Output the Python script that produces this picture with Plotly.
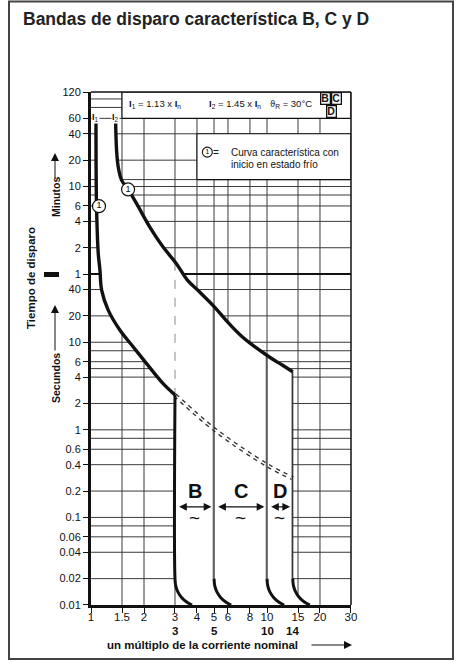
import numpy as np
import plotly.graph_objects as go

# ---- axes: multiple of rated current (x) and trip time in seconds (y) ----
x_tick_vals = [1, 1.5, 2, 3, 4, 5, 6, 8, 10, 15, 20, 30]
x_tick_text = ["1", "1.5", "2", "3", "4", "5", "6", "8", "10", "15", "20", "30"]
y_tick_vals = [7200, 3600, 2400, 1200, 600, 360, 240, 120, 60,
               40, 20, 10, 6, 4, 2, 1, 0.6, 0.4, 0.2, 0.1, 0.06, 0.04, 0.02, 0.01]
y_tick_text = ["120", "60", "40", "20", "10", "6", "4", "2", "1",
               "40", "20", "10", "6", "4", "2", "1", "0.6", "0.4", "0.2", "0.1",
               "0.06", "0.04", "0.02", "0.01"]

grid_x = [1.5, 2, 3, 4, 5, 6, 8, 10, 15, 20]
grid_t = [6000, 4800, 3600, 2400, 1200, 720, 600, 480, 360, 240, 120,
          40, 20, 10, 8, 6, 5, 4, 2, 1, 0.8, 0.6, 0.4, 0.2, 0.1, 0.08, 0.06, 0.04, 0.02]
minute_t = 60
x_min, x_max = 1, 30
t_min, t_max = 0.01, 7200

# ---- thermal limits ----
lower_x = [1.067, 1.068, 1.075, 1.099, 1.124, 1.149, 1.252, 1.458, 1.734, 2.064, 2.562, 3.0]
lower_t = [3200, 1200, 352, 104, 66.7, 39.4, 23.3, 13.8, 8.88, 5.74, 3.39, 2.5]

upper_x = [1.38, 1.397, 1.427, 1.491, 1.624, 1.813, 2.154, 2.562, 3.05, 3.53,
           4.13, 5.02, 5.84, 7.25, 10.26, 12.2, 14.0]
upper_t = [3200, 1562, 1007, 710, 556, 385, 208, 123, 79.5, 51.2,
           37.7, 25.4, 17.9, 11.5, 6.83, 5.49, 4.6]

# lower thermal limit continued into the magnetic zone
ext_x = [3.0, 5.08, 10.0, 14.0]
ext_t = [2.5, 0.994, 0.396, 0.28]

# magnetic release limits and the instantaneous tail
band_edges = [3, 5, 10, 14]
band_names = ["B", "C", "D"]
tail_ratio = [1.0, 1.01, 1.04, 1.09, 1.16, 1.25]
tail_t = [0.02, 0.0165, 0.014, 0.0122, 0.0109, 0.01]

# cold-start markers on both limits
mark_x = [1.11, 1.624]
mark_t = [358, 556]

L = np.log10
INK = "#111111"
GRID = "#3a3a3a"


def upper_at(x):
    return 10 ** np.interp(L(x), L(upper_x), L(upper_t))


def line(x, y, color=INK, width=1.0, dash=None, shape="linear"):
    return go.Scatter(x=x, y=y, mode="lines", hoverinfo="skip", showlegend=False,
                      line=dict(color=color, width=width, dash=dash, shape=shape))


fig = go.Figure()

# grid
hx, hy = [], []
for t in grid_t:
    hx += [x_min, x_max, None]
    hy += [t, t, None]
vx, vy = [], []
for x in grid_x:
    vx += [x, x, None]
    vy += [t_min, t_max, None]
fig.add_trace(line(hx, hy, GRID, 1))
fig.add_trace(line(vx, vy, GRID, 1))
fig.add_trace(line([x_min, x_max], [minute_t, minute_t], INK, 2))

# tripping band (white area between the limits)
e0, e1 = band_edges[0], band_edges[-1]
poly_x = (lower_x + [e0 * r for r in tail_ratio]
          + [e1 * r for r in tail_ratio[::-1]] + upper_x[::-1])
poly_t = lower_t + tail_t + tail_t[::-1] + upper_t[::-1]
fig.add_trace(go.Scatter(x=poly_x, y=poly_t, mode="lines", fill="toself",
                         fillcolor="white", line=dict(color="rgba(0,0,0,0)", width=0),
                         hoverinfo="skip", showlegend=False))

# header and legend boxes
for bx, bt in [((1.5, 30), (3600, 7200)), ((4, 30), (720, 2400))]:
    fig.add_trace(go.Scatter(x=[bx[0], bx[1], bx[1], bx[0], bx[0]],
                             y=[bt[0], bt[0], bt[1], bt[1], bt[0]],
                             mode="lines", fill="toself", fillcolor="white",
                             line=dict(color=INK, width=1.1),
                             hoverinfo="skip", showlegend=False))

# dotted continuation of the lower limit
fig.add_trace(line(ext_x, ext_t, "#333333", 4.2, "dot", "spline"))
fig.add_trace(line(ext_x, ext_t, "white", 1.6, None, "spline"))

# dashed guide at the B limit
fig.add_trace(line([e0, e0], [upper_at(e0), lower_t[-1]], "#8a8a8a", 1, "dash"))

# magnetic limits: thin verticals, thick instantaneous tails
for e in band_edges[1:]:
    top = upper_at(e)
    fig.add_trace(line([e / 1.012, e / 1.012], [top, tail_t[0]], "#8a8a8a", 1))
    fig.add_trace(line([e, e], [top, tail_t[0]], INK, 1.1))
    fig.add_trace(line([e * r for r in tail_ratio], tail_t, INK, 3, None, "spline"))
fig.add_trace(line([e0] + [e0 * r for r in tail_ratio], [lower_t[-1]] + tail_t,
                   INK, 3, None, "spline"))

# thermal limits
fig.add_trace(line(lower_x, lower_t, INK, 3.4, None, "spline"))
fig.add_trace(line(upper_x, upper_t, INK, 3.4, None, "spline"))

# circled 1 markers
fig.add_trace(go.Scatter(x=mark_x, y=mark_t, mode="markers+text", text=["1", "1"],
                         textposition="middle center",
                         textfont=dict(size=9, color=INK),
                         marker=dict(size=13, color="white", line=dict(color=INK, width=1.2)),
                         hoverinfo="skip", showlegend=False))
fig.add_trace(go.Scatter(x=[4.58], y=[1482], mode="markers+text", text=["1"],
                         textposition="middle center",
                         textfont=dict(size=7.5, color=INK),
                         marker=dict(size=10, color="white", line=dict(color=INK, width=1.1)),
                         hoverinfo="skip", showlegend=False))

# ---- annotations ----
ann = []


def px_x(p):
    return (p - 91) / 260


def px_y(p):
    return (605 - p) / 513


def text(x, y, s, size=10, bold=False, xanchor="center", xref="paper", yref="paper",
         **kw):
    ann.append(dict(x=x, y=y, xref=xref, yref=yref, text=f"<b>{s}</b>" if bold else s,
                    showarrow=False, xanchor=xanchor, yanchor="middle",
                    font=dict(size=size, color=INK), **kw))


ann.append(dict(x=px_x(21), y=px_y(19), xref="paper", yref="paper",
                text="<b>Bandas de disparo característica B, C y D</b>", showarrow=False,
                xanchor="left", yanchor="middle", font=dict(size=17.5, color="#222222")))

text(px_x(127), px_y(104), "<b>I</b><sub>1</sub> = 1.13 x <b>I</b><sub>n</sub>", 9.5, False, "left")
text(px_x(207), px_y(104), "<b>I</b><sub>2</sub> = 1.45 x <b>I</b><sub>n</sub>", 9.5, False, "left")
text(px_x(268), px_y(104), "ϑ<sub>R</sub> = 30°C", 9.5, False, "left")
for s, cx, cy in [("B", 325, 98), ("C", 336, 98), ("D", 331.5, 111)]:
    ann.append(dict(x=px_x(cx), y=px_y(cy), xref="paper", yref="paper", text=f"<b>{s}</b>",
                    xanchor="center", yanchor="middle",
                    showarrow=False, font=dict(size=10.5, color=INK), bgcolor="white",
                    bordercolor=INK, borderwidth=1.3, borderpad=0, width=8, height=10))

for lx, s in [(lower_x[0], "1"), (upper_x[0], "2")]:
    ann.append(dict(x=L(lx), y=px_y(117), xref="x", yref="paper",
                    xanchor="center", yanchor="middle",
                    text=f"<b>I</b><sub>{s}</sub>", showarrow=False, bgcolor="white",
                    borderpad=0, font=dict(size=9, color=INK)))

text(px_x(216), px_y(152), "=", 10)
text(px_x(229), px_y(152), "Curva característica con", 10, False, "left")
text(px_x(229), px_y(164.5), "inicio en estado frío", 10, False, "left")

# band letters, span arrows and tildes
for i, name in enumerate(band_names):
    a, b = band_edges[i], band_edges[i + 1]
    mid = (L(a) + L(b)) / 2
    text(mid, L(0.2), name, 20, True, xref="x", yref="y")
    text(mid, L(0.1), "~", 19, xref="x", yref="y")
    ann.append(dict(x=L(b / 1.035), y=L(0.132), ax=L(a * 1.035), ay=L(0.132),
                    xref="x", yref="y", axref="x", ayref="y", text="", showarrow=True,
                    arrowhead=2, arrowside="end+start", arrowsize=1.4, arrowwidth=1.1,
                    arrowcolor=INK))

# rated multiples of the magnetic limits, under the tick labels
for v in band_edges:
    text(L(v), px_y(631), str(v), 11.5, True, xref="x")

text(px_x(202), px_y(645), "un múltiplo de la corriente nominal", 11.5, True)
ann.append(dict(x=px_x(352), y=px_y(645), xref="paper", yref="paper", ax=-42, ay=0,
                text="", showarrow=True, arrowhead=2, arrowsize=1.6, arrowwidth=1,
                arrowcolor=INK))

text(px_x(31), px_y(278), "Tiempo de disparo", 11.5, True, textangle=-90)
text(px_x(56), px_y(197), "Minutos", 10.5, True, textangle=-90)
text(px_x(56), px_y(378), "Secundos", 10.5, True, textangle=-90)
for head, length in [(153, 27), (305, 47)]:
    ann.append(dict(x=px_x(55), y=px_y(head), xref="paper", yref="paper", ax=0, ay=length,
                    text="", showarrow=True, arrowhead=2, arrowsize=1.6, arrowwidth=1,
                    arrowcolor=INK))

shapes = [
    dict(type="rect", xref="paper", yref="paper", x0=px_x(44), x1=px_x(59),
         y0=px_y(277), y1=px_y(272), fillcolor=INK, line=dict(width=0)),
    dict(type="rect", xref="paper", yref="paper", x0=px_x(9), x1=px_x(453),
         y0=px_y(659), y1=px_y(1.5), line=dict(color="#444444", width=2)),
    dict(type="line", xref="paper", yref="paper", x0=0, x1=1, y0=1, y1=1,
         line=dict(color=INK, width=1.5)),
    dict(type="line", xref="paper", yref="paper", x0=1, x1=1, y0=0, y1=1,
         line=dict(color=INK, width=1.5)),
]

fig.update_layout(
    width=456, height=662, margin=dict(l=91, r=105, t=92, b=57),
    paper_bgcolor="white", plot_bgcolor="white", showlegend=False,
    font=dict(family="Liberation Sans, Arial, sans-serif", color=INK),
    annotations=ann, shapes=shapes,
    xaxis=dict(type="log", range=[L(x_min) - 1e-4, L(x_max) + 1e-4], tickmode="array",
               tickvals=x_tick_vals, ticktext=x_tick_text, ticks="outside", ticklen=5,
               tickwidth=1, tickcolor=INK, showgrid=False, zeroline=False,
               showline=True, linewidth=2.5, linecolor=INK, tickfont=dict(size=11.5),
               ticklabelstandoff=-6),
    yaxis=dict(type="log", range=[L(t_min) - 1e-4, L(t_max) + 1e-4], tickmode="array",
               tickvals=y_tick_vals, ticktext=y_tick_text, ticks="outside", ticklen=5,
               tickwidth=1, tickcolor=INK, showgrid=False, zeroline=False,
               showline=True, linewidth=3, linecolor=INK, tickfont=dict(size=11)),
)

fig.write_html("out.html")
